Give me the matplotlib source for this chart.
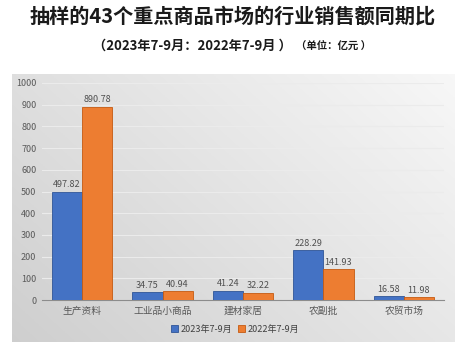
import numpy as np
import matplotlib
matplotlib.use("Agg")
import matplotlib.pyplot as plt

plt.rcParams['font.family'] = ['Noto Sans CJK SC', 'DejaVu Sans']

categories = ['生产资料', '工业品小商品', '建材家居', '农副批', '农贸市场']
series_names = ['2023年7-9月', '2022年7-9月']
values_2023 = [497.82, 34.75, 41.24, 228.29, 16.58]
values_2022 = [890.78, 40.94, 32.22, 141.93, 11.98]
yticks = [0, 100, 200, 300, 400, 500, 600, 700, 800, 900, 1000]

W, H = 465, 355
fig = plt.figure(figsize=(W / 100, H / 100), dpi=100)
fig.patch.set_facecolor('white')

# gradient background panel
bx0, by0, bx1, by1 = 12, 74, 455, 342
bg = fig.add_axes([bx0 / W, 1 - by1 / H, (bx1 - bx0) / W, (by1 - by0) / H], zorder=0)
yy, xx = np.mgrid[0:1:200j, 0:1:200j]
t = (xx * 0.6 + (1 - yy) * 0.4)  # yy=0 at top in imshow
grad = 0.81 + 0.16 * t
img = np.dstack([grad, grad, grad])
bg.imshow(img, aspect='auto', extent=[0, 1, 0, 1], origin='upper')
bg.set_axis_off()

ax = fig.add_axes([42 / W, 1 - 300 / H, (444 - 42) / W, (300 - 83) / H], zorder=1)
ax.set_facecolor('none')

x = np.arange(len(categories))
w = 0.375
b1 = ax.bar(x - w / 2, values_2023, w, color='#4472C4', edgecolor='#2F5597', linewidth=0.6,
            label=series_names[0], zorder=3)
b2 = ax.bar(x + w / 2, values_2022, w, color='#ED7D31', edgecolor='#C55A11', linewidth=0.6,
            label=series_names[1], zorder=3)

for bars, vals in ((b1, values_2023), (b2, values_2022)):
    for r, v in zip(bars, vals):
        ax.text(r.get_x() + r.get_width() / 2, v + 12, f'{v:.2f}', ha='center', va='bottom',
                fontsize=6.5, color='#505050')

ax.set_xlim(-0.5, len(categories) - 0.5)
ax.set_ylim(0, 1000)
ax.set_yticks(yticks)
ax.set_yticklabels([str(v) for v in yticks], fontsize=6.5, color='#595959')
ax.set_xticks(x)
ax.set_xticklabels(categories, fontsize=7, color='#595959')
ax.tick_params(axis='y', length=0, pad=4)
ax.tick_params(axis='x', length=0, pad=4)
ax.yaxis.grid(True, color='#ebebeb', linewidth=0.8, zorder=0)
ax.set_axisbelow(True)
for k in ('top', 'right', 'left'):
    ax.spines[k].set_visible(False)
ax.spines['bottom'].set_color('#8c8c8c')
ax.spines['bottom'].set_linewidth(0.8)

fig.legend(handles=[b1, b2], labels=series_names, loc='center', bbox_to_anchor=(235 / W, 1 - 329 / H),
           ncol=2, frameon=False, fontsize=6.5, handlelength=0.8, handleheight=0.8,
           handletextpad=0.3, columnspacing=0.6, labelcolor='#404040')

fig.text(0.5, 1 - 16 / H, '抽样的43个重点商品市场的行业销售额同期比', ha='center', va='center',
         fontsize=14.5, fontweight='bold', color='#1a1a1a')
fig.text(292 / W, 1 - 46 / H, '（2023年7-9月：2022年7-9月 ）', ha='right', va='center',
         fontsize=9.5, fontweight='bold', color='#1a1a1a')
fig.text(296 / W, 1 - 47 / H, '（单位：亿元 ）', ha='left', va='center',
         fontsize=7.5, fontweight='bold', color='#1a1a1a')

fig.savefig('out.png', dpi=100)
